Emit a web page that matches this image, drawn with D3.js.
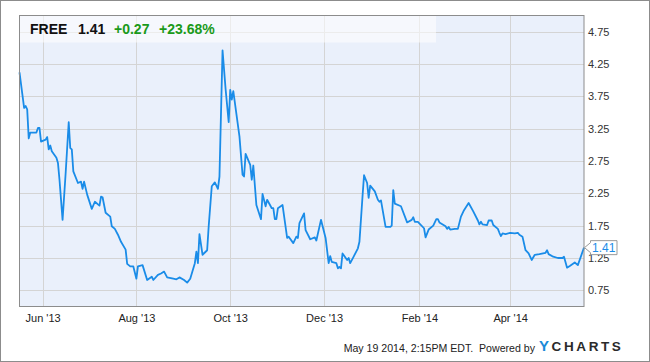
<!DOCTYPE html>
<html>
<head>
<meta charset="utf-8">
<script src="https://cdnjs.cloudflare.com/ajax/libs/d3/7.8.5/d3.min.js"></script>
<style>
    body { margin: 0; background: #fff; }
    svg { display: block; font-family: Arial, "Liberation Sans", sans-serif; }
</style>
</head>
<body>
<svg id="chart" width="650" height="362"></svg>
<script>
// FREE daily closes
const closes = [
    ["2013-05-17", 4.12], ["2013-05-20", 3.57], ["2013-05-21", 3.60], ["2013-05-22", 3.55],
    ["2013-05-23", 3.10], ["2013-05-24", 3.19], ["2013-05-28", 3.19], ["2013-05-29", 3.26],
    ["2013-05-30", 3.26], ["2013-05-31", 3.05], ["2013-06-03", 3.08], ["2013-06-04", 3.12],
    ["2013-06-05", 2.93], ["2013-06-06", 2.99], ["2013-06-07", 2.90], ["2013-06-10", 2.80],
    ["2013-06-11", 2.72], ["2013-06-12", 2.46], ["2013-06-14", 1.84], ["2013-06-16", 2.56],
    ["2013-06-18", 3.35], ["2013-06-19", 2.95], ["2013-06-20", 2.93], ["2013-06-21", 2.59],
    ["2013-06-24", 2.41], ["2013-06-26", 2.43], ["2013-06-27", 2.32], ["2013-06-28", 2.43],
    ["2013-06-30", 2.23], ["2013-07-03", 2.01], ["2013-07-05", 2.12], ["2013-07-08", 2.06],
    ["2013-07-09", 2.20], ["2013-07-10", 2.19], ["2013-07-12", 1.95], ["2013-07-15", 1.89],
    ["2013-07-16", 1.74], ["2013-07-18", 1.70], ["2013-07-20", 1.61], ["2013-07-22", 1.50],
    ["2013-07-25", 1.38], ["2013-07-26", 1.16], ["2013-07-28", 1.12], ["2013-07-30", 1.12],
    ["2013-08-01", 0.93], ["2013-08-02", 1.12], ["2013-08-05", 1.14], ["2013-08-08", 0.91],
    ["2013-08-11", 0.96], ["2013-08-12", 0.91], ["2013-08-15", 0.99], ["2013-08-17", 1.01],
    ["2013-08-19", 1.04], ["2013-08-21", 0.95], ["2013-08-25", 0.93], ["2013-08-27", 0.92],
    ["2013-08-29", 0.95], ["2013-09-01", 0.91], ["2013-09-03", 0.87], ["2013-09-05", 0.93],
    ["2013-09-08", 1.17], ["2013-09-09", 1.35], ["2013-09-10", 1.17], ["2013-09-11", 1.62],
    ["2013-09-13", 1.30], ["2013-09-16", 1.37], ["2013-09-17", 1.74], ["2013-09-19", 2.36],
    ["2013-09-21", 2.42], ["2013-09-23", 2.32], ["2013-09-24", 2.51], ["2013-09-26", 4.46],
    ["2013-09-28", 3.86], ["2013-09-30", 3.35], ["2013-10-01", 3.85], ["2013-10-02", 3.70],
    ["2013-10-03", 3.83], ["2013-10-07", 3.13], ["2013-10-09", 2.54], ["2013-10-10", 2.51],
    ["2013-10-11", 2.86], ["2013-10-14", 2.69], ["2013-10-15", 2.46], ["2013-10-16", 2.68],
    ["2013-10-18", 2.07], ["2013-10-21", 1.85], ["2013-10-22", 2.24], ["2013-10-24", 2.05],
    ["2013-10-25", 2.15], ["2013-10-28", 2.02], ["2013-10-29", 2.02], ["2013-10-30", 1.85],
    ["2013-10-31", 1.85], ["2013-11-01", 2.02], ["2013-11-04", 2.07], ["2013-11-07", 1.56],
    ["2013-11-08", 1.58], ["2013-11-11", 1.48], ["2013-11-13", 1.58], ["2013-11-14", 1.56],
    ["2013-11-15", 1.79], ["2013-11-18", 1.94], ["2013-11-19", 1.68], ["2013-11-22", 1.54],
    ["2013-11-25", 1.57], ["2013-11-26", 1.52], ["2013-11-29", 1.84], ["2013-12-02", 1.56],
    ["2013-12-04", 1.17], ["2013-12-05", 1.28], ["2013-12-06", 1.19], ["2013-12-09", 1.17],
    ["2013-12-10", 1.09], ["2013-12-11", 1.11], ["2013-12-12", 1.09], ["2013-12-13", 1.32],
    ["2013-12-16", 1.22], ["2013-12-17", 1.25], ["2013-12-18", 1.17], ["2013-12-20", 1.26],
    ["2013-12-23", 1.40], ["2013-12-24", 1.50], ["2013-12-26", 2.20], ["2013-12-27", 2.53],
    ["2013-12-29", 2.41], ["2013-12-30", 2.18], ["2013-12-31", 2.37], ["2014-01-03", 2.28],
    ["2014-01-05", 2.15], ["2014-01-06", 2.12], ["2014-01-07", 2.14], ["2014-01-10", 1.73],
    ["2014-01-13", 1.73], ["2014-01-14", 1.75], ["2014-01-15", 2.30], ["2014-01-16", 2.09],
    ["2014-01-20", 2.05], ["2014-01-24", 1.80], ["2014-01-27", 1.84], ["2014-01-28", 1.88],
    ["2014-01-29", 1.81], ["2014-01-31", 1.81], ["2014-02-04", 1.71], ["2014-02-05", 1.57],
    ["2014-02-07", 1.69], ["2014-02-10", 1.75], ["2014-02-12", 1.85], ["2014-02-13", 1.85],
    ["2014-02-14", 1.80], ["2014-02-18", 1.74], ["2014-02-19", 1.70], ["2014-02-20", 1.73],
    ["2014-02-21", 1.69], ["2014-02-24", 1.70], ["2014-02-26", 1.70], ["2014-02-28", 1.89],
    ["2014-03-02", 1.99], ["2014-03-05", 2.10], ["2014-03-08", 1.97], ["2014-03-11", 1.83],
    ["2014-03-12", 1.77], ["2014-03-13", 1.81], ["2014-03-14", 1.77], ["2014-03-17", 1.76],
    ["2014-03-18", 1.83], ["2014-03-20", 1.83], ["2014-03-21", 1.76], ["2014-03-24", 1.70],
    ["2014-03-25", 1.64], ["2014-03-26", 1.59], ["2014-03-27", 1.63], ["2014-03-29", 1.62],
    ["2014-04-01", 1.64], ["2014-04-04", 1.63], ["2014-04-06", 1.64], ["2014-04-07", 1.61],
    ["2014-04-09", 1.58], ["2014-04-11", 1.37], ["2014-04-13", 1.32], ["2014-04-15", 1.22],
    ["2014-04-17", 1.30], ["2014-04-20", 1.31], ["2014-04-24", 1.33], ["2014-04-25", 1.37],
    ["2014-04-26", 1.31], ["2014-04-29", 1.27], ["2014-05-02", 1.25], ["2014-05-05", 1.25],
    ["2014-05-06", 1.27], ["2014-05-08", 1.10], ["2014-05-10", 1.13], ["2014-05-13", 1.18],
    ["2014-05-15", 1.14], ["2014-05-19", 1.41]
];
const priceTicks = [0.75, 1.25, 1.75, 2.25, 2.75, 3.25, 3.75, 4.25, 4.75];
const monthTicks = ["2013-06-01", "2013-08-01", "2013-10-01", "2013-12-01", "2014-02-01", "2014-04-01"];
const header = { ticker: "FREE", last: "1.41", change: "+0.27", pct: "+23.68%" };
const stamp = "May 19 2014, 2:15PM EDT.  Powered by";

const parse = d3.timeParse("%Y-%m-%d");
const data = closes.map(d => ({ date: parse(d[0]), price: d[1] }));

const svg = d3.select("#chart");
const W = 650, H = 362;
const plot = { left: 19.5, right: 584, top: 15.5, bottom: 306.5 };

const x = d3.scaleTime()
    .domain([parse("2013-05-17"), parse("2014-05-19")])
    .range([plot.left, plot.right]);
const y = d3.scaleLinear()
    .domain([0.5, 5.0])
    .range([plot.bottom, plot.top]);

// outer frame
svg.append("rect")
    .attr("x", 0.5).attr("y", 0.5)
    .attr("width", W - 1).attr("height", H - 1)
    .attr("fill", "#fff").attr("stroke", "#8c8c8c");

// plot background
svg.append("rect")
    .attr("x", plot.left).attr("y", plot.top)
    .attr("width", plot.right - plot.left).attr("height", plot.bottom - plot.top)
    .attr("fill", "#eaf0fb");

// grid
const grid = svg.append("g");
grid.selectAll(".hg").data(priceTicks).join("line")
    .attr("x1", plot.left).attr("x2", plot.right)
    .attr("y1", d => Math.round(y(d)) + 0.5).attr("y2", d => Math.round(y(d)) + 0.5)
    .attr("stroke", "#d4d4d4");
grid.selectAll(".vg").data(monthTicks).join("line")
    .attr("x1", d => Math.round(x(parse(d))) + 0.5).attr("x2", d => Math.round(x(parse(d))) + 0.5)
    .attr("y1", plot.top).attr("y2", plot.bottom)
    .attr("stroke", "#d4d4d4");

// header overlay
svg.append("rect")
    .attr("x", plot.left).attr("y", plot.top)
    .attr("width", 436 - plot.left).attr("height", 27)
    .attr("fill", "#fff").attr("opacity", 0.55);

// price line
const line = d3.line()
    .x(d => x(d.date))
    .y(d => y(d.price));

svg.append("path")
    .datum(data)
    .attr("d", line)
    .attr("fill", "none")
    .attr("stroke", "#1a8ce8")
    .attr("stroke-width", 1.8)
    .attr("stroke-linejoin", "round");

// plot border
svg.append("rect")
    .attr("x", plot.left).attr("y", plot.top)
    .attr("width", plot.right - plot.left).attr("height", plot.bottom - plot.top)
    .attr("fill", "none").attr("stroke", "#8c8c8c");

// axes
const yAxis = d3.axisRight(y)
    .tickValues(priceTicks)
    .tickSize(0)
    .tickPadding(4)
    .tickFormat(d3.format(".2f"));
const gy = svg.append("g")
    .attr("transform", `translate(${plot.right},0)`)
    .call(yAxis);
gy.select(".domain").remove();
gy.selectAll("text").attr("fill", "#333").attr("font-size", 11)
    .attr("font-family", "Arial, 'Liberation Sans', sans-serif");

const fmtMonth = d3.timeFormat("%b '%y");
const xAxis = d3.axisBottom(x)
    .tickValues(monthTicks.map(parse))
    .tickSize(0)
    .tickPadding(8)
    .tickFormat(fmtMonth);
const gx = svg.append("g")
    .attr("transform", `translate(0,${plot.bottom})`)
    .call(xAxis);
gx.select(".domain").remove();
gx.selectAll("text").attr("fill", "#222").attr("font-size", 11)
    .attr("font-family", "Arial, 'Liberation Sans', sans-serif");

// last value flag (sits over the 1.25 label, as in the original)
const last = data[data.length - 1];
const ly = y(last.price);
const flag = svg.append("g");
flag.append("path")
    .attr("d", `M${plot.right + 0.5},${ly} L${plot.right + 6.5},${ly - 5} L${plot.right + 6.5},${ly - 7}
        L${plot.right + 33},${ly - 7} L${plot.right + 33},${ly + 7} L${plot.right + 6.5},${ly + 7}
        L${plot.right + 6.5},${ly + 5} Z`)
    .attr("fill", "#fff").attr("stroke", "#999");
flag.append("text")
    .attr("x", plot.right + 8).attr("y", ly + 4.5)
    .attr("font-size", 12).attr("fill", "#1a8ce8")
    .text(d3.format(".2f")(last.price));

// header text
const head = svg.append("text")
    .attr("y", 34).attr("font-size", 14).attr("font-weight", "bold");
head.append("tspan").attr("x", 30).attr("fill", "#111").text(header.ticker);
head.append("tspan").attr("x", 78).attr("fill", "#111").text(header.last);
head.append("tspan").attr("x", 114).attr("fill", "#1a9a1a").text(header.change);
head.append("tspan").attr("x", 159).attr("fill", "#1a9a1a").text(header.pct);

// footer
svg.append("text")
    .attr("x", 535).attr("y", 352)
    .attr("text-anchor", "end")
    .attr("font-size", 10.6).attr("fill", "#222")
    .attr("xml:space", "preserve")
    .style("white-space", "pre")
    .text(stamp);
const logo = svg.append("text")
    .attr("x", 539).attr("y", 351)
    .attr("font-size", 13.5).attr("font-weight", "bold")
    .attr("letter-spacing", 2.6);
logo.append("tspan").attr("fill", "#1b8ad8").attr("font-size", 15).text("Y");
logo.append("tspan").attr("fill", "#2a2a2a").text("CHARTS");
</script>
</body>
</html>
